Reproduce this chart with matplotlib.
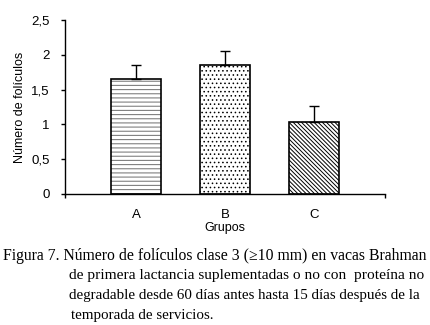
import numpy as np
import matplotlib.pyplot as plt

grupos = ['A', 'B', 'C']
foliculos = [1.65, 1.85, 1.03]
error = [0.20, 0.20, 0.23]
tramas = ['----', '....', '\\' * 8]
trama_color = ['#808080', '#000000', '#000000']
trama_lw = [0.8, 0.6, 0.7]

y_ticks = [0, 0.5, 1, 1.5, 2, 2.5]
y_labels = ['0', '0,5', '1', '1,5', '2', '2,5']

caption = [
    'Figura 7. Número de folículos clase 3 (≥10 mm) en vacas Brahman',
    'de primera lactancia suplementadas o no con  proteína no',
    'degradable desde 60 días antes hasta 15 días después de la',
    'temporada de servicios.',
]
caption_x = [3, 69, 69, 71]
caption_y = [256, 276, 296, 316]
caption_size = [11.3, 11.1, 10.85, 10.8]

plt.rcParams['font.family'] = ['Liberation Sans', 'DejaVu Sans']

fig = plt.figure(figsize=(4.3, 3.25), dpi=100)
ax = fig.add_axes([65/430, 1 - 194/325, 320/430, 174/325])

x = np.arange(len(grupos))
for i in range(len(grupos)):
    with plt.rc_context({'hatch.linewidth': trama_lw[i]}):
        ax.bar(x[i], foliculos[i], width=0.56, color='white', edgecolor=trama_color[i],
               hatch=tramas[i], linewidth=0, zorder=2)
ax.bar(x, foliculos, width=0.56, fill=False, edgecolor='black', linewidth=1.2, zorder=3)
ax.errorbar(x, foliculos, yerr=[np.zeros(3), error], fmt='none', ecolor='black',
            elinewidth=1, capsize=3.5, capthick=1, zorder=4)

ax.set_xlim(-0.8, 2.8)
ax.set_ylim(0, 2.5)
ax.set_yticks(y_ticks)
ax.set_yticklabels(y_labels, fontsize=9.5)
ax.set_xticks([-0.8, 2.8])
ax.set_xticklabels(['', ''])
ax.set_xticks(x, minor=True)
ax.set_xticklabels(grupos, minor=True, fontsize=9.5)
ax.tick_params(axis='x', which='minor', length=0, pad=11)
ax.tick_params(axis='both', which='major', length=3, width=1, direction='out')
ax.tick_params(axis='y', pad=8)
for s in ['top', 'right']:
    ax.spines[s].set_visible(False)
for s in ['left', 'bottom']:
    ax.spines[s].set_linewidth(1)

ax.set_ylabel('Número de folículos', fontsize=9, labelpad=4)
fig.text(225/430, 1 - 228/325, 'Grupos', ha='center', va='center', fontsize=9)

serif = ['Liberation Serif', 'DejaVu Serif']
for i in range(len(caption)):
    fig.text(caption_x[i]/430, 1 - caption_y[i]/325, caption[i], ha='left', va='center',
             fontsize=caption_size[i], family=serif)

fig.savefig('out.png', dpi=100)
